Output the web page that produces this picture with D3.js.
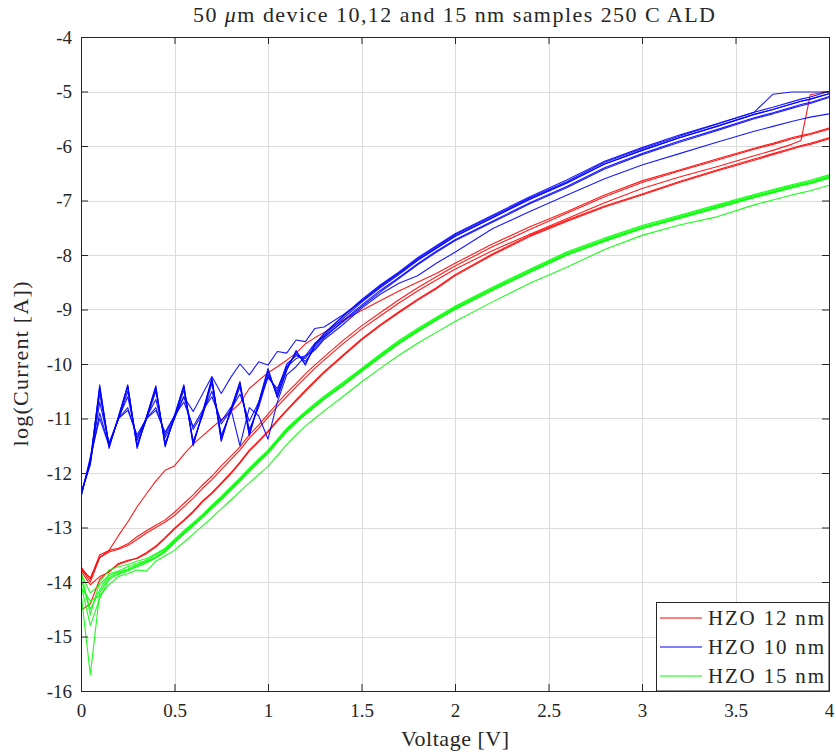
<!DOCTYPE html>
<html><head><meta charset="utf-8">
<script src="https://cdn.jsdelivr.net/npm/d3@7"></script>
<style>body{margin:0;background:#fff} svg{display:block} text{font-family:"Liberation Serif","DejaVu Serif",serif;fill:#262626}</style>
</head><body><div id="chart"></div>
<script>
const voltage = [0,0.05,0.1,0.15,0.2,0.25,0.3,0.35,0.4,0.45,
 0.5,0.55,0.6,0.65,0.7,0.75,0.8,0.85,0.9,0.95,
 1.0,1.05,1.1,1.15,1.2,1.25,1.3,1.4,1.5,1.6,
 1.7,1.8,1.9,2.0,2.2,2.4,2.6,2.8,3.0,3.2,
 3.4,3.6,3.7,3.8,3.85,3.9,4.0];

// HZO 12 nm (red)
const red12_a = [-13.75,-14.00,-13.55,-13.42,-13.15,-12.90,-12.62,-12.38,-12.15,-11.95,
 -11.87,-11.66,-11.47,-11.32,-11.17,-11.02,-10.88,-10.72,-10.45,-10.30,
 -10.16,-10.05,-9.93,-9.80,-9.63,-9.52,-9.42,-9.20,-9.02,-8.84,
 -8.66,-8.50,-8.34,-8.15,-7.80,-7.48,-7.20,-6.90,-6.64,-6.44,
 -6.24,-6.04,-5.95,-5.85,-5.81,-5.77,-5.67];
const red12_b = [-13.72,-13.95,-13.50,-13.42,-13.38,-13.30,-13.17,-13.06,-12.96,-12.86,
 -12.72,-12.56,-12.40,-12.22,-12.06,-11.87,-11.70,-11.52,-11.30,-11.12,
 -10.92,-10.72,-10.53,-10.36,-10.18,-10.02,-9.87,-9.57,-9.30,-9.06,
 -8.82,-8.60,-8.40,-8.20,-7.85,-7.53,-7.23,-6.93,-6.67,-6.46,
 -6.26,-6.06,-5.97,-5.87,-5.83,-5.79,-5.69];
const red12_c = [-13.78,-13.92,-13.55,-13.45,-13.40,-13.33,-13.22,-13.10,-13.00,-12.90,
 -12.78,-12.62,-12.46,-12.28,-12.12,-11.94,-11.76,-11.58,-11.36,-11.18,
 -10.98,-10.78,-10.60,-10.42,-10.25,-10.08,-9.93,-9.63,-9.36,-9.12,
 -8.88,-8.66,-8.46,-8.26,-7.92,-7.62,-7.33,-7.04,-6.78,-6.57,
 -6.38,-6.18,-6.08,-5.97,-5.90,-5.06,-5.00];
const red12_d = [-13.80,-14.05,-13.90,-13.82,-13.66,-13.60,-13.57,-13.48,-13.36,-13.20,
 -13.03,-12.88,-12.72,-12.53,-12.38,-12.20,-12.02,-11.82,-11.60,-11.43,
 -11.25,-11.05,-10.86,-10.68,-10.50,-10.33,-10.16,-9.86,-9.56,-9.30,
 -9.06,-8.83,-8.62,-8.38,-8.00,-7.66,-7.38,-7.12,-6.90,-6.67,
 -6.46,-6.26,-6.16,-6.06,-6.01,-5.97,-5.87];
const red12_e = [-14.52,-14.40,-13.95,-13.80,-13.68,-13.62,-13.56,-13.46,-13.34,-13.18,
 -13.01,-12.86,-12.70,-12.51,-12.36,-12.18,-12.00,-11.80,-11.58,-11.41,
 -11.23,-11.03,-10.84,-10.66,-10.48,-10.31,-10.14,-9.84,-9.54,-9.28,
 -9.04,-8.81,-8.60,-8.36,-7.98,-7.64,-7.36,-7.10,-6.88,-6.65,
 -6.44,-6.24,-6.14,-6.04,-5.99,-5.95,-5.85];

// HZO 10 nm (blue)
const blue10_a = [-12.40,-11.80,-10.38,-11.52,-10.98,-10.38,-11.52,-10.98,-10.40,-11.50,
 -10.96,-10.38,-11.48,-10.90,-10.25,-11.40,-10.85,-10.32,-11.30,-10.72,
 -10.12,-10.60,-10.10,-9.78,-10.00,-9.68,-9.48,-9.17,-8.87,-8.60,
 -8.36,-8.10,-7.88,-7.66,-7.32,-6.98,-6.68,-6.33,-6.08,-5.85,
 -5.64,-5.42,-5.33,-5.23,-5.18,-5.14,-5.04];
const blue10_b = [-12.42,-11.75,-10.45,-11.50,-11.00,-10.42,-11.50,-11.00,-10.45,-11.48,
 -10.98,-10.42,-11.45,-10.92,-10.30,-11.35,-10.88,-10.38,-11.25,-10.75,
 -10.18,-10.55,-10.05,-9.82,-9.95,-9.72,-9.52,-9.21,-8.92,-8.65,
 -8.41,-8.16,-7.93,-7.72,-7.38,-7.04,-6.74,-6.40,-6.14,-5.91,
 -5.70,-5.48,-5.39,-5.29,-5.24,-5.20,-5.09];
const blue10_c = [-12.38,-11.85,-10.55,-11.48,-11.02,-10.50,-11.48,-11.02,-10.50,-11.45,
 -11.00,-10.48,-11.42,-10.95,-10.35,-11.30,-10.90,-10.42,-11.20,-10.80,
 -10.22,-10.50,-10.00,-9.85,-9.90,-9.65,-9.45,-9.13,-8.84,-8.57,
 -8.33,-8.07,-7.85,-7.63,-7.29,-6.95,-6.65,-6.30,-6.05,-5.82,
 -5.60,-5.38,-5.05,-5.01,-5.01,-5.01,-5.01];
const blue10_d = [-12.45,-11.70,-11.00,-11.50,-11.00,-10.80,-11.35,-11.00,-10.80,-11.30,
 -10.95,-10.60,-11.20,-10.90,-10.50,-11.10,-10.85,-10.55,-11.05,-10.70,
 -10.25,-10.45,-10.05,-9.90,-9.85,-9.62,-9.50,-9.23,-8.95,-8.68,
 -8.43,-8.18,-7.95,-7.74,-7.40,-7.06,-6.76,-6.42,-6.16,-5.93,
 -5.72,-5.50,-5.41,-5.31,-5.26,-5.22,-5.11];
const blue10_e = [-12.40,-11.80,-10.70,-11.45,-11.00,-10.60,-11.40,-10.98,-10.65,-11.35,
 -11.00,-10.60,-10.87,-10.55,-10.23,-10.54,-10.25,-10.00,-10.20,-9.96,
 -10.02,-9.77,-9.80,-9.56,-9.59,-9.35,-9.32,-9.10,-8.85,-8.58,
 -8.34,-8.09,-7.87,-7.65,-7.31,-6.97,-6.67,-6.33,-6.08,-5.85,
 -5.64,-5.42,-5.33,-5.23,-5.18,-5.14,-5.04];
const blue10_f = [-12.42,-11.78,-10.90,-11.50,-11.00,-10.85,-11.30,-11.00,-10.85,-11.25,
 -10.95,-10.70,-11.15,-10.85,-10.60,-11.05,-10.80,-11.50,-10.80,-10.95,
 -11.38,-10.70,-10.20,-10.05,-9.85,-9.75,-9.55,-9.28,-8.98,-8.72,
 -8.52,-8.38,-8.15,-7.95,-7.52,-7.20,-6.90,-6.60,-6.35,-6.14,
 -5.93,-5.73,-5.64,-5.55,-5.51,-5.47,-5.41];
const blue10_g = [-12.36,-11.82,-10.42,-11.55,-10.96,-10.40,-11.55,-10.96,-10.42,-11.52,
 -10.94,-10.40,-11.50,-10.88,-10.28,-11.42,-10.83,-10.35,-11.32,-10.70,
 -10.08,-10.62,-10.12,-9.75,-10.02,-9.64,-9.44,-9.12,-8.82,-8.55,
 -8.31,-8.05,-7.83,-7.61,-7.27,-6.93,-6.62,-6.28,-6.03,-5.80,
 -5.59,-5.38,-5.29,-5.19,-5.14,-5.10,-5.00];

// HZO 15 nm (green)
const green15_a = [-13.85,-14.20,-14.05,-13.88,-13.82,-13.76,-13.69,-13.62,-13.54,-13.42,
 -13.26,-13.10,-12.95,-12.80,-12.63,-12.47,-12.30,-12.13,-11.95,-11.78,
 -11.62,-11.42,-11.22,-11.06,-10.91,-10.77,-10.63,-10.38,-10.12,-9.86,
 -9.61,-9.39,-9.18,-8.98,-8.63,-8.30,-7.98,-7.73,-7.50,-7.31,
 -7.12,-6.93,-6.84,-6.75,-6.71,-6.67,-6.57];
const green15_b = [-13.95,-14.50,-14.15,-13.85,-13.80,-13.72,-13.66,-13.60,-13.50,-13.40,
 -13.24,-13.08,-12.93,-12.78,-12.61,-12.45,-12.28,-12.11,-11.93,-11.76,
 -11.60,-11.40,-11.20,-11.04,-10.89,-10.75,-10.61,-10.36,-10.10,-9.84,
 -9.59,-9.37,-9.16,-8.96,-8.61,-8.28,-7.96,-7.71,-7.48,-7.29,
 -7.10,-6.91,-6.82,-6.73,-6.69,-6.65,-6.55];
const green15_c = [-14.05,-14.80,-14.30,-13.95,-13.86,-13.80,-13.72,-13.65,-13.56,-13.45,
 -13.28,-13.12,-12.97,-12.82,-12.65,-12.49,-12.32,-12.15,-11.97,-11.80,
 -11.64,-11.44,-11.24,-11.08,-10.93,-10.79,-10.65,-10.40,-10.14,-9.88,
 -9.63,-9.41,-9.20,-9.00,-8.65,-8.32,-8.00,-7.75,-7.52,-7.33,
 -7.14,-6.95,-6.86,-6.77,-6.73,-6.69,-6.59];
const green15_d = [-14.20,-15.70,-14.20,-13.92,-13.84,-13.78,-13.70,-13.63,-13.55,-13.43,
 -13.27,-13.11,-12.96,-12.81,-12.64,-12.48,-12.31,-12.14,-11.96,-11.79,
 -11.63,-11.43,-11.23,-11.07,-10.92,-10.78,-10.64,-10.39,-10.13,-9.87,
 -9.62,-9.40,-9.19,-8.99,-8.64,-8.31,-7.99,-7.74,-7.51,-7.32,
 -7.13,-6.94,-6.85,-6.76,-6.72,-6.68,-6.58];
const green15_e = [-13.80,-14.60,-14.00,-13.78,-13.72,-13.68,-13.62,-13.57,-13.48,-13.38,
 -13.22,-13.06,-12.91,-12.76,-12.59,-12.43,-12.26,-12.09,-11.91,-11.74,
 -11.58,-11.38,-11.18,-11.02,-10.87,-10.73,-10.59,-10.34,-10.08,-9.82,
 -9.57,-9.35,-9.14,-8.94,-8.59,-8.26,-7.94,-7.69,-7.46,-7.27,
 -7.08,-6.89,-6.80,-6.71,-6.67,-6.63,-6.53];
const green15_f = [-14.10,-14.35,-14.25,-14.05,-13.90,-13.85,-13.78,-13.80,-13.62,-13.52,
 -13.42,-13.27,-13.12,-12.97,-12.82,-12.66,-12.50,-12.34,-12.18,-12.03,
 -11.88,-11.68,-11.48,-11.30,-11.14,-11.00,-10.86,-10.60,-10.33,-10.08,
 -9.84,-9.62,-9.42,-9.22,-8.86,-8.52,-8.22,-7.90,-7.64,-7.45,
 -7.30,-7.08,-6.99,-6.90,-6.86,-6.82,-6.72];

const xTicks = [0,0.5,1,1.5,2,2.5,3,3.5,4];
const xTickLabels = ["0","0.5","1","1.5","2","2.5","3","3.5","4"];
const yTicks = [-16,-15,-14,-13,-12,-11,-10,-9,-8,-7,-6,-5,-4];
const yTickLabels = ["-16","-15","-14","-13","-12","-11","-10","-9","-8","-7","-6","-5","-4"];
const legendLabels = ["HZO 12 nm","HZO 10 nm","HZO 15 nm"];
const groupColors = ["#ff0000","#0000ff","#00ff00"];

const groups = [
  {label: legendLabels[0], color: groupColors[0], series: [red12_a, red12_b, red12_c, red12_d, red12_e]},
  {label: legendLabels[1], color: groupColors[1], series: [blue10_a, blue10_b, blue10_c, blue10_d, blue10_e, blue10_f, blue10_g]},
  {label: legendLabels[2], color: groupColors[2], series: [green15_a, green15_b, green15_c, green15_d, green15_e, green15_f]}
];

const W = 836, H = 756;
const L = 81, R = 829, T = 37, B = 691;
const svg = d3.select("#chart").append("svg").attr("width", W).attr("height", H);
svg.append("rect").attr("width", W).attr("height", H).attr("fill", "#fff");

const x = d3.scaleLinear().domain([0, 4]).range([L, R]);
const y = d3.scaleLinear().domain([-16, -4]).range([B, T]);

// grid
const grid = svg.append("g").attr("stroke", "#dcdcdc").attr("stroke-width", 1);
grid.selectAll("line.gx").data(xTicks).join("line")
  .attr("x1", d => Math.round(x(d)) + 0.5).attr("x2", d => Math.round(x(d)) + 0.5)
  .attr("y1", T).attr("y2", B);
grid.selectAll("line.gy").data(yTicks).join("line")
  .attr("y1", d => Math.round(y(d)) + 0.5).attr("y2", d => Math.round(y(d)) + 0.5)
  .attr("x1", L).attr("x2", R);

// lines
svg.append("clipPath").attr("id", "clip").append("rect")
  .attr("x", L).attr("y", T).attr("width", R - L).attr("height", B - T);
const line = d3.line().x((d, i) => x(voltage[i])).y(d => y(d));
const plot = svg.append("g").attr("clip-path", "url(#clip)");
groups.forEach(g => {
  plot.append("g").selectAll("path").data(g.series).join("path")
    .attr("d", line).attr("fill", "none").attr("stroke", g.color)
    .attr("stroke-width", 1.1).attr("stroke-linejoin", "round").attr("stroke-opacity", 0.9);
});

// axes
const axisColor = "#262626";
function styleAxis(g) {
  g.select(".domain").attr("stroke", axisColor);
  g.selectAll(".tick line").attr("stroke", axisColor);
  g.selectAll(".tick text").style("font-family", '"Liberation Serif","DejaVu Serif",serif')
    .style("font-size", "19px").attr("fill", axisColor);
}
svg.append("g").attr("transform", `translate(0,${B})`)
  .call(d3.axisBottom(x).tickValues(xTicks).tickSizeInner(-7).tickSizeOuter(0).tickPadding(10)
    .tickFormat((d, i) => xTickLabels[i]))
  .call(styleAxis).call(g => g.selectAll(".tick text").attr("dy", "0.85em"));
svg.append("g").attr("transform", `translate(0,${T})`)
  .call(d3.axisTop(x).tickValues(xTicks).tickSizeInner(-7).tickSizeOuter(0).tickFormat(""))
  .call(styleAxis);
svg.append("g").attr("transform", `translate(${L},0)`)
  .call(d3.axisLeft(y).tickValues(yTicks).tickSizeInner(-7).tickSizeOuter(0).tickPadding(9)
    .tickFormat((d, i) => yTickLabels[i]))
  .call(styleAxis);
svg.append("g").attr("transform", `translate(${R},0)`)
  .call(d3.axisRight(y).tickValues(yTicks).tickSizeInner(-7).tickSizeOuter(0).tickFormat(""))
  .call(styleAxis);

// title and labels
const title = svg.append("text").attr("x", (L + R) / 2 - 1).attr("y", 22).attr("text-anchor", "middle")
  .style("font-size", "22px").attr("textLength", 522).attr("lengthAdjust", "spacing");
title.append("tspan").text("50 ");
title.append("tspan").attr("font-style", "italic").text("μ");
title.append("tspan").text("m device 10,12 and 15 nm samples 250 C ALD");

svg.append("text").attr("x", (L + R) / 2).attr("y", 746).attr("text-anchor", "middle")
  .style("font-size", "22px").attr("textLength", 108).attr("lengthAdjust", "spacing").text("Voltage [V]");
svg.append("text").attr("transform", `translate(28,${(T + B) / 2}) rotate(-90)`)
  .attr("text-anchor", "middle").style("font-size", "22px")
  .attr("textLength", 165).attr("lengthAdjust", "spacing").text("log(Current [A])");

// legend
const lg = svg.append("g");
lg.append("rect").attr("x", 656.5).attr("y", 602.5).attr("width", R - 656.5).attr("height", B - 602.5)
  .attr("fill", "#fff").attr("stroke", axisColor).attr("stroke-width", 1);
groups.forEach((g, i) => {
  const yy = 618 + i * 29;
  lg.append("line").attr("x1", 660).attr("x2", 702).attr("y1", yy).attr("y2", yy)
    .attr("stroke", g.color).attr("stroke-width", 1.1);
  lg.append("text").attr("x", 708).attr("y", yy).attr("dy", "0.35em")
    .style("font-size", "21px").attr("textLength", 116).attr("lengthAdjust", "spacing").text(g.label);
});
</script>
</body></html>
